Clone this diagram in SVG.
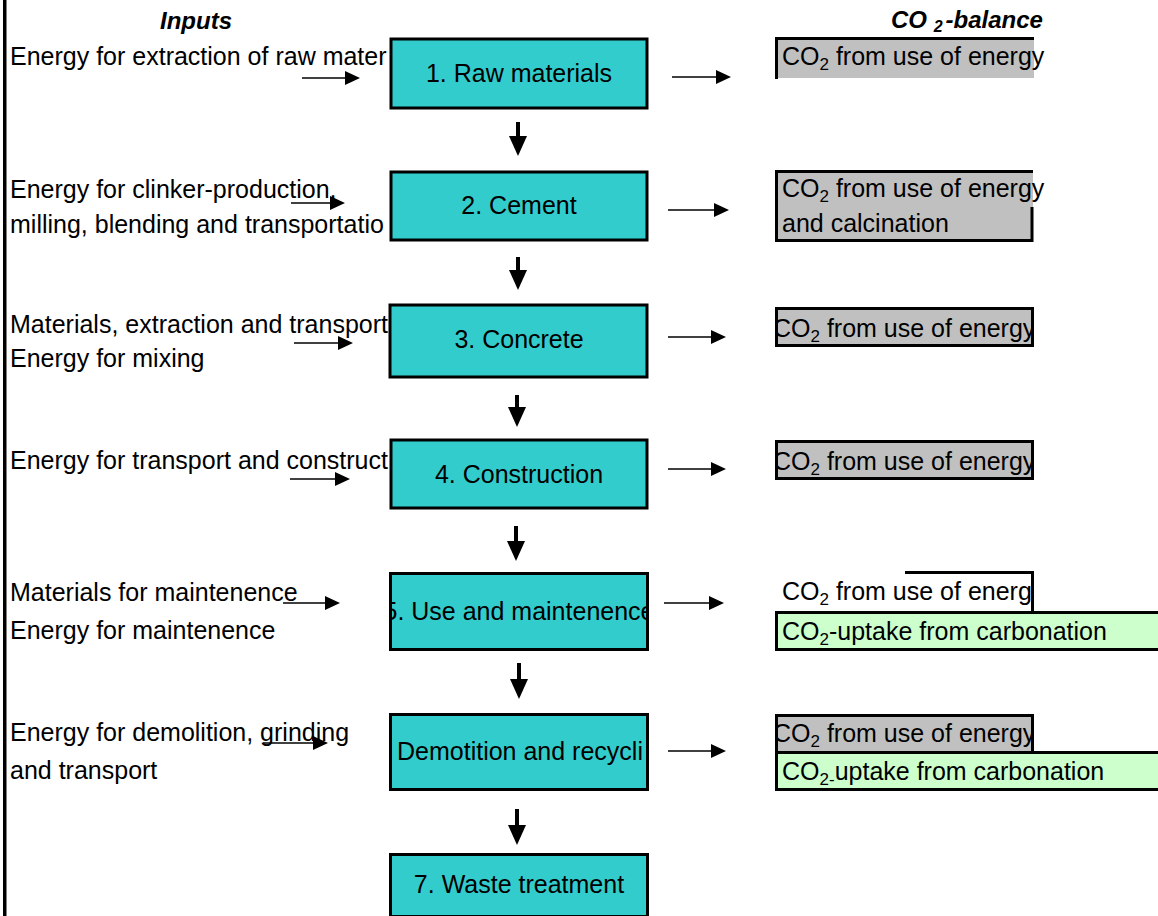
<svg xmlns="http://www.w3.org/2000/svg" width="1158" height="916" viewBox="0 0 1158 916">
<style>
.t{font-family:"Liberation Sans",Arial,sans-serif;font-size:25px;fill:#000}
.h{font-family:"Liberation Sans",Arial,sans-serif;font-size:24px;font-weight:bold;font-style:italic;fill:#000}
.box{fill:#33CCCC;stroke:#000;stroke-width:3}
.gray{fill:#C0C0C0}
.green{fill:#CCFFCC;stroke:#000;stroke-width:3}
.bd{stroke:#000;stroke-width:3;fill:none}
.thin{stroke:#000;stroke-width:1.6;fill:none;marker-end:url(#ah)}
.thick{stroke:#000;stroke-width:4;fill:none;marker-end:url(#dh)}
.sub{font-size:17px}
</style>
<defs>
<marker id="ah" markerUnits="userSpaceOnUse" markerWidth="15" markerHeight="14" refX="0" refY="7" orient="auto"><path d="M0,0 L15,7 L0,14 z" fill="#000"/></marker>
<marker id="dh" markerUnits="userSpaceOnUse" markerWidth="20" markerHeight="18" refX="0" refY="9" orient="auto"><path d="M0,0 L20,9 L0,18 z" fill="#000"/></marker>
<clipPath id="c5"><rect x="392" y="575" width="255" height="74"/></clipPath>
<clipPath id="g3"><rect x="777" y="309" width="255" height="35"/></clipPath>
<clipPath id="g4"><rect x="777" y="442" width="255" height="35"/></clipPath>
<clipPath id="g6"><rect x="777" y="716" width="255" height="35"/></clipPath>
</defs>
<rect x="3" y="0" width="3.5" height="916" fill="#000"/>
<g id="headers">
<text class="h" x="160" y="29">Inputs</text>
<text class="h" x="891" y="28">CO <tspan font-size="16px" dy="4">2</tspan><tspan dx="3" dy="-4">-balance</tspan></text>
</g>
<g id="inputs">
<text class="t" x="10" y="65">Energy for extraction of raw mater</text>
<text class="t" x="10" y="198">Energy for clinker-production,</text>
<text class="t" x="10" y="233">milling, blending and transportatio</text>
<text class="t" x="10" y="333">Materials, extraction and transport</text>
<text class="t" x="10" y="367">Energy for mixing</text>
<text class="t" x="10" y="469">Energy for transport and construct</text>
<text class="t" x="10" y="601">Materials for maintenence</text>
<text class="t" x="10" y="639">Energy for maintenence</text>
<text class="t" x="10" y="741">Energy for demolition, grinding</text>
<text class="t" x="10" y="779">and transport</text>
</g>
<g id="node1"><rect class="box" x="391" y="39" width="256" height="69"/><text class="t" x="519" y="82" text-anchor="middle">1. Raw materials</text></g>
<g id="node2"><rect class="box" x="391" y="172" width="256" height="68"/><text class="t" x="519" y="214" text-anchor="middle">2. Cement</text></g>
<g id="node3"><rect class="box" x="390" y="305" width="257" height="72" stroke-width="4"/><text class="t" x="519" y="348" text-anchor="middle">3. Concrete</text></g>
<g id="node4"><rect class="box" x="391" y="440" width="256" height="68"/><text class="t" x="519" y="483" text-anchor="middle">4. Construction</text></g>
<g id="node5"><rect class="box" x="390.5" y="573.5" width="257" height="76"/><text class="t" x="519" y="620" text-anchor="middle" clip-path="url(#c5)">5. Use and maintenence</text></g>
<g id="node6"><rect class="box" x="390.5" y="714.5" width="257" height="75"/><text class="t" x="397" y="760">Demotition and recycli</text></g>
<g id="node7"><rect class="box" x="390.5" y="854.5" width="257" height="62"/><text class="t" x="519" y="893" text-anchor="middle">7. Waste treatment</text></g>
<g id="co2-1">
<rect class="gray" x="777" y="39" width="257" height="39"/>
<path class="bd" d="M776.5,79 V38.5 H1034"/>
<text class="t" x="782" y="65">CO<tspan class="sub" dy="5">2</tspan><tspan dy="-5"> from use of energy</tspan></text>
</g>
<g id="co2-2">
<rect class="gray" x="777" y="172" width="256" height="67"/>
<path class="bd" d="M1032,207 V240.5 H776.5 V171.5 H1033"/>
<text class="t" x="782" y="197">CO<tspan class="sub" dy="5">2</tspan><tspan dy="-5"> from use of energy</tspan></text>
<text class="t" x="782" y="232">and calcination</text>
</g>
<g id="co2-3">
<rect class="gray" x="776.5" y="308.5" width="256" height="37"/>
<rect class="bd" x="776.5" y="308.5" width="256" height="37"/>
<text class="t" x="773" y="337" clip-path="url(#g3)">CO<tspan class="sub" dy="5">2</tspan><tspan dy="-5"> from use of energy</tspan></text>
</g>
<g id="co2-4">
<rect class="gray" x="776.5" y="441.5" width="256" height="37"/>
<rect class="bd" x="776.5" y="441.5" width="256" height="37"/>
<text class="t" x="773" y="470" clip-path="url(#g4)">CO<tspan class="sub" dy="5">2</tspan><tspan dy="-5"> from use of energy</tspan></text>
</g>
<g id="co2-5">
<path class="bd" d="M905,572.5 H1032.5 V612"/>
<text class="t" x="782" y="600">CO<tspan class="sub" dy="5">2</tspan><tspan dy="-5"> from use of energ</tspan></text>
<rect class="green" x="776.5" y="612.5" width="390" height="37"/>
<text class="t" x="782" y="640">CO<tspan class="sub" dy="5">2</tspan><tspan dy="-5">-uptake from carbonation</tspan></text>
</g>
<g id="co2-6">
<rect class="gray" x="776.5" y="715.5" width="256" height="37"/>
<rect class="bd" x="776.5" y="715.5" width="256" height="37"/>
<text class="t" x="773" y="742" clip-path="url(#g6)">CO<tspan class="sub" dy="5">2</tspan><tspan dy="-5"> from use of energy</tspan></text>
<rect class="green" x="776.5" y="752.5" width="390" height="37"/>
<text class="t" x="782" y="780">CO<tspan class="sub" dy="5">2-</tspan><tspan dy="-5">uptake from carbonation</tspan></text>
</g>
<g id="connectors">
<line class="thick" x1="518" y1="122" x2="518" y2="136"/>
<line class="thick" x1="518" y1="257" x2="518" y2="270"/>
<line class="thick" x1="517" y1="395" x2="517" y2="407"/>
<line class="thick" x1="516" y1="526" x2="516" y2="541"/>
<line class="thick" x1="519" y1="663" x2="519" y2="679"/>
<line class="thick" x1="517" y1="809" x2="517" y2="825"/>
<line class="thin" x1="302" y1="78" x2="345" y2="78"/>
<line class="thin" x1="291" y1="203" x2="330" y2="203"/>
<line class="thin" x1="294" y1="343" x2="338" y2="343"/>
<line class="thin" x1="290" y1="479" x2="335" y2="479"/>
<line class="thin" x1="283" y1="603" x2="325" y2="603"/>
<line class="thin" x1="263" y1="743" x2="313" y2="743"/>
<line class="thin" x1="672" y1="77" x2="716" y2="77"/>
<line class="thin" x1="668" y1="210" x2="714" y2="210"/>
<line class="thin" x1="668" y1="337" x2="711" y2="337"/>
<line class="thin" x1="668" y1="469" x2="711" y2="469"/>
<line class="thin" x1="664" y1="603" x2="709" y2="603"/>
<line class="thin" x1="668" y1="751" x2="711" y2="751"/>
</g>
</svg>
